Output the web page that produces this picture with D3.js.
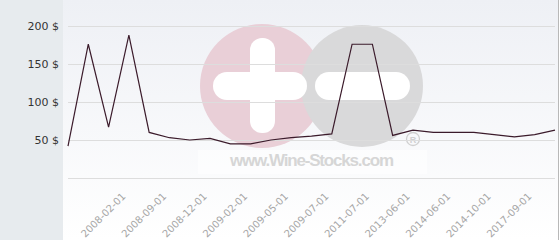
<!DOCTYPE html>
<meta charset="utf-8">
<head>
<script src="https://d3js.org/d3.v7.min.js"></script>
<style>
    body { margin: 0; background: #fff; font: 11px "DejaVu Sans", sans-serif; }
    .grid line { stroke: #dddddd; shape-rendering: crispEdges; }
    .grid path { display: none; }
</style>
</head>
<body>
<div id="chart"></div>
<script>
    // prices per observation, left to right
    var prices = [42, 176, 67, 188, 60, 53, 50, 52, 45, 45, 50, 53, 55, 58, 176, 176, 56, 63, 60, 60, 60, 57, 54, 57, 63];
    // only every other date is printed on the axis
    var dateLabels = ["", "", "", "2008-02-01", "", "2008-09-01", "", "2008-12-01", "", "2009-02-01", "",
        "2009-05-01", "", "2009-07-01", "", "2011-07-01", "", "2013-06-01", "", "2014-06-01", "",
        "2014-10-01", "", "2017-09-01", ""];
    var yTicks = [0, 50, 100, 150, 200];

    var W = 560, H = 240;
    var margin = {top: 26, right: 5, bottom: 62, left: 68};

    var svg = d3.select("#chart").append("svg")
        .attr("width", W)
        .attr("height", H);

    var defs = svg.append("defs");
    var grad = defs.append("linearGradient")
        .attr("id", "bg").attr("x1", 0).attr("y1", 0).attr("x2", 0).attr("y2", 1);
    grad.append("stop").attr("offset", "0%").attr("stop-color", "#eef0f5");
    grad.append("stop").attr("offset", "100%").attr("stop-color", "#ffffff");

    // left panel + plot panel
    svg.append("rect").attr("x", 0).attr("y", 0).attr("width", 63).attr("height", H).attr("fill", "#e7ebee");
    svg.append("rect").attr("x", 63).attr("y", 0).attr("width", 495).attr("height", H).attr("fill", "url(#bg)");
    svg.append("line").attr("x1", 558.5).attr("x2", 558.5).attr("y1", 0).attr("y2", H)
        .attr("stroke", "#b8b8b8");

    var x = d3.scalePoint()
        .domain(d3.range(prices.length))
        .range([margin.left, W - margin.right]);

    var y = d3.scaleLinear()
        .domain([0, 200])
        .range([H - margin.bottom, margin.top]);

    // watermark
    var wm = svg.append("g");
    wm.append("circle").attr("cx", 262).attr("cy", 86).attr("r", 62).attr("fill", "#e9cfd7");
    wm.append("circle").attr("cx", 362).attr("cy", 86).attr("r", 61).attr("fill", "#d9d9da");
    wm.append("rect").attr("x", 213).attr("y", 72).attr("width", 94).attr("height", 28)
        .attr("rx", 14).attr("fill", "#fff");
    wm.append("rect").attr("x", 250).attr("y", 38).attr("width", 25).attr("height", 95)
        .attr("rx", 12).attr("fill", "#fff");
    wm.append("rect").attr("x", 315).attr("y", 72).attr("width", 95).attr("height", 28)
        .attr("rx", 14).attr("fill", "#fff");
    wm.append("rect").attr("x", 198).attr("y", 150).attr("width", 229).attr("height", 24)
        .attr("fill", "#ffffff").attr("opacity", 0.5);
    wm.append("text").attr("x", 312).attr("y", 166)
        .attr("text-anchor", "middle")
        .attr("textLength", 164)
        .style("font", "bold 17px 'Liberation Sans', Arial, sans-serif")
        .attr("fill", "#d6d6d6")
        .text("www.Wine-Stocks.com");
    wm.append("circle").attr("cx", 413).attr("cy", 139).attr("r", 6.5)
        .attr("fill", "none").attr("stroke", "#d0d0d0").attr("stroke-width", 1.3);
    wm.append("text").attr("x", 413).attr("y", 142.5).attr("text-anchor", "middle")
        .style("font", "bold 9px 'Liberation Sans', sans-serif").attr("fill", "#d0d0d0").text("R");

    // grid + y labels
    svg.append("g")
        .attr("class", "grid")
        .attr("transform", "translate(" + margin.left + ",0)")
        .call(d3.axisLeft(y).tickValues(yTicks).tickSize(-(W - margin.left - margin.right)).tickFormat(""));

    svg.append("g").selectAll("yLabel")
        .data(yTicks.filter(function(d) { return d > 0; }))
        .enter().append("text")
        .attr("x", 59)
        .attr("y", function(d) { return y(d); })
        .attr("dy", ".35em")
        .style("text-anchor", "end")
        .attr("fill", "#333")
        .text(function(d) { return d + " $"; });

    // x labels
    svg.append("g").selectAll("xLabel")
        .data(dateLabels)
        .enter().append("text")
        .attr("transform", function(d, i) { return "translate(" + (x(i) - 2.5) + "," + 197 + ") rotate(-45)"; })
        .style("text-anchor", "end")
        .style("font-size", "10px")
        .attr("fill", "#a6a6a6")
        .text(function(d) { return d; });

    // price line
    var line = d3.line()
        .x(function(d, i) { return x(i); })
        .y(function(d) { return y(d); });

    svg.append("path")
        .datum(prices)
        .attr("fill", "none")
        .attr("stroke", "#3b1b2b")
        .attr("stroke-width", 1.2)
        .attr("d", line);
</script>
</body>
